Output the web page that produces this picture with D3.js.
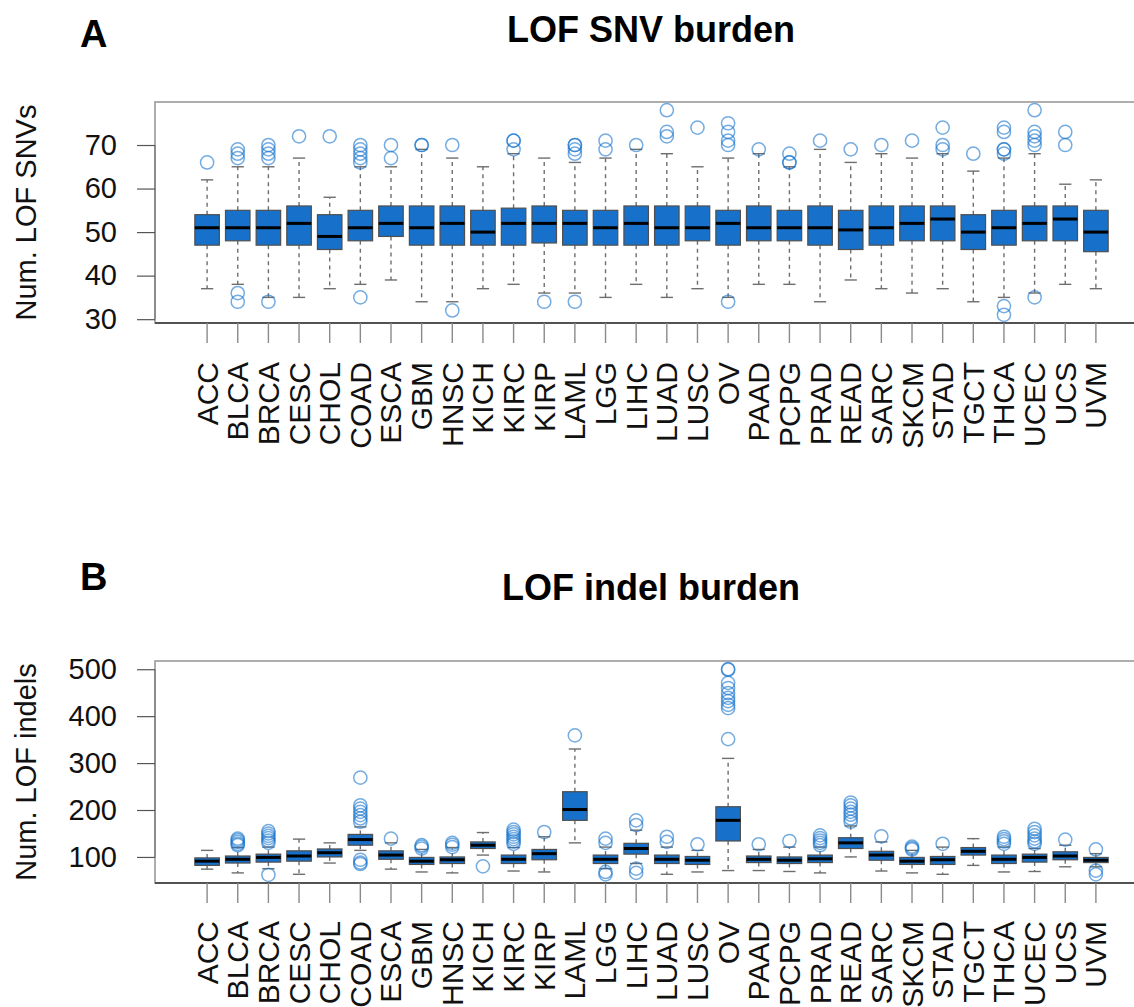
<!DOCTYPE html>
<html>
<head>
<meta charset="utf-8">
<script src="https://cdn.jsdelivr.net/npm/d3@7"></script>
<style>
  html, body { margin: 0; padding: 0; background: #fff; }
  svg { display: block; font-family: "Liberation Sans", Arial, Helvetica, sans-serif; }
</style>
</head>
<body>
<svg id="fig" width="1134" height="1007"></svg>
<script>
// Tumour types on the x axis
const categories = ["ACC","BLCA","BRCA","CESC","CHOL","COAD","ESCA","GBM","HNSC","KICH",
  "KIRC","KIRP","LAML","LGG","LIHC","LUAD","LUSC","OV","PAAD","PCPG",
  "PRAD","READ","SARC","SKCM","STAD","TGCT","THCA","UCEC","UCS","UVM"];

// Panel A: LOF SNVs per sample (whisker ends, quartiles, median, outliers)
const snvLow    = [37,38,35,35,37,38,39,34,34,37, 38,36,36,35,38,35,37,35,38,38, 34,39,37,36,37,34,35,36,38,37];
const snvQ1     = [47,48,47,47,46,48,49,47,47,47, 47,47.5,47,47,47,47,48,47,48,48, 47,46,47,48,48,46,47,48,48,45.5];
const snvMedian = [51,51,51,52,49,51,52,51,52,50, 52,52,52,51,52,51,51,52,51,51, 51,50.5,51,52,53,50,51,52,53,50];
const snvQ3     = [54,55,55,56,54,55,56,56,56,55, 55.5,56,55,55,56,56,56,55,56,55, 56,55,56,56,56,54,55,56,56,55];
const snvHigh   = [62,65,65,67,58,65,65,69,67,65, 68,67,66,67,69,68,65,67,68,65, 69,66,68,67,68,64,67,68,61,62];
const snvOutliers = [
  [66], [67,68,69,36,34], [67,68,69,70,34], [72], [72], [66,67,68,69,70,35], [67,70], [70,70], [70,32], [],
  [69,71,71], [34], [68,69,70,70,34], [69,71], [70], [72,73,78], [74], [70,71,73,75,34], [69], [66,66,68],
  [71], [69], [70], [71], [69,70,74], [68], [68,69,69,73,74,33,31], [70,71,72,73,78,35], [70,73], []
];
const snvTicks = [30,40,50,60,70];

// Panel B: LOF indels per sample
const indelLow    = [74,66,75,63,87,114,74,68,66,104, 70,68,130,75,86,63,68,71,71,69, 66,100,70,66,63,82,68,69,79,79];
const indelQ1     = [82,87,89,91,100,125,95,84,86,118, 86,94,178,86,106,86,84,134,88,86, 88,118,93,84,84,104,86,89,94,88];
const indelMedian = [91,95,99,102,109,137,104,91,94,125, 95,107,201,95,118,95,93,178,95,93, 96,130,104,91,94,112,95,99,102,93];
const indelQ3     = [98,102,106,113,117,148,113,99,100,132, 104,116,239,104,129,104,101,207,102,100, 104,141,112,99,101,120,104,106,111,99];
const indelHigh   = [114,120,121,138,130,164,130,116,120,152, 120,143,330,121,157,121,114,310,116,121, 121,166,132,114,121,139,121,118,125,107];
const indelOutliers = [
  [], [125,128,132,136,139], [130,135,140,145,150,155,62], [], [], [269,210,203,196,189,182,175,94,88,85],
  [139], [118,122,125], [121,126,130], [80],
  [128,133,138,143,148,153,158], [153], [359], [130,139,68,63], [168,178,75,66], [132,143], [127],
  [351,417,424,432,439,449,460,471,499,500], [127], [134],
  [125,130,135,140,146], [175,182,190,196,203,210,216], [144], [116,119,122], [128], [],
  [128,133,138,143], [128,133,139,146,153,160], [137], [116,71,63]
];
const indelTicks = [100,200,300,400,500];

const svg = d3.select("#fig");

const BOX_FILL = "#1770C9";
const BOX_EDGE = "#4f4f4f";
const WHISK = "#6e6e6e";
const OUT = "#1874CD";

function drawPanel(p) {
  const g = svg.append("g");
  const x = d3.scaleLinear().domain([-0.7, categories.length + 1.7]).range([155, 1148]);

  const allVals = p.low.concat(p.high, p.outliers.flat());
  const lo = d3.min(allVals), hi = d3.max(allVals);
  const pad = (hi - lo) * 0.04;
  const y = d3.scaleLinear().domain([lo - pad, hi + pad]).range([p.bottom, p.top]);

  // plot frame (right side runs off the figure)
  g.append("rect")
    .attr("x", 155).attr("y", p.top)
    .attr("width", 1148 - 155).attr("height", p.bottom - p.top)
    .attr("fill", "none").attr("stroke", "#9a9a9a").attr("stroke-width", 1.6);
  g.append("line")
    .attr("x1", 155).attr("x2", 1148).attr("y1", p.bottom).attr("y2", p.bottom)
    .attr("stroke", "#333").attr("stroke-width", 1.4);

  // y axis
  const yAxis = d3.axisLeft(y).tickValues(p.ticks).tickSize(18).tickPadding(20).tickFormat(d3.format("d"));
  const ya = g.append("g").attr("transform", "translate(155,0)").call(yAxis);
  ya.select(".domain")
    .attr("d", `M0,${y(p.ticks[0])}V${y(p.ticks[p.ticks.length - 1])}`)
    .attr("stroke", "#777").attr("stroke-width", 1.2);
  ya.selectAll(".tick line").attr("stroke", "#555").attr("stroke-width", 1.2);
  ya.selectAll(".tick text")
    .attr("font-size", 29).attr("fill", "#111")
    .attr("font-family", "Liberation Sans, Arial, sans-serif");

  // x ticks and rotated category labels
  const xa = g.append("g");
  xa.selectAll("line.xt").data(categories).join("line")
    .attr("class", "xt")
    .attr("x1", (d, i) => x(i + 1)).attr("x2", (d, i) => x(i + 1))
    .attr("y1", p.bottom).attr("y2", p.bottom + 20)
    .attr("stroke", "#8a8a8a").attr("stroke-width", 1.4);
  xa.selectAll("text.xl").data(categories).join("text")
    .attr("class", "xl")
    .attr("transform", (d, i) => `translate(${x(i + 1) + 10.5},${p.labelTop}) rotate(-90)`)
    .attr("text-anchor", "end")
    .attr("font-size", 30).attr("fill", "#111")
    .text(d => d);

  const bw = (x(2) - x(1)) * 0.8;
  const cap = bw * 0.5;
  const boxes = g.append("g");
  categories.forEach((c, i) => {
    const cx = x(i + 1);
    // whiskers
    boxes.append("line").attr("x1", cx).attr("x2", cx)
      .attr("y1", y(p.q3[i])).attr("y2", y(p.high[i]))
      .attr("stroke", WHISK).attr("stroke-width", 1.4).attr("stroke-dasharray", "4,4");
    boxes.append("line").attr("x1", cx).attr("x2", cx)
      .attr("y1", y(p.q1[i])).attr("y2", y(p.low[i]))
      .attr("stroke", WHISK).attr("stroke-width", 1.4).attr("stroke-dasharray", "4,4");
    [p.high[i], p.low[i]].forEach(v => {
      boxes.append("line").attr("x1", cx - cap / 2).attr("x2", cx + cap / 2)
        .attr("y1", y(v)).attr("y2", y(v))
        .attr("stroke", WHISK).attr("stroke-width", 1.4);
    });
    // box
    boxes.append("rect")
      .attr("x", cx - bw / 2).attr("width", bw)
      .attr("y", y(p.q3[i])).attr("height", y(p.q1[i]) - y(p.q3[i]))
      .attr("fill", BOX_FILL).attr("stroke", BOX_EDGE).attr("stroke-width", 1.2);
    // median
    boxes.append("line").attr("x1", cx - bw / 2).attr("x2", cx + bw / 2)
      .attr("y1", y(p.median[i])).attr("y2", y(p.median[i]))
      .attr("stroke", "#000").attr("stroke-width", 3);
    // outliers
    boxes.selectAll(null).data(p.outliers[i]).join("circle")
      .attr("cx", cx).attr("cy", v => y(v)).attr("r", 6.6)
      .attr("fill", "none").attr("stroke", OUT)
      .attr("stroke-opacity", 0.6).attr("stroke-width", 1.5);
  });

  // titles
  svg.append("text").attr("x", 651).attr("y", p.titleY)
    .attr("text-anchor", "middle").attr("font-size", 36).attr("font-weight", "bold")
    .text(p.title);
  svg.append("text").attr("x", 80).attr("y", p.letterY)
    .attr("font-size", 38).attr("font-weight", "bold")
    .text(p.letter);
  svg.append("text")
    .attr("transform", `translate(36,${(p.top + p.bottom) / 2}) rotate(-90)`)
    .attr("text-anchor", "middle").attr("font-size", 29).attr("fill", "#111")
    .text(p.ylab);
}

drawPanel({
  top: 102, bottom: 323, labelTop: 362,
  low: snvLow, q1: snvQ1, median: snvMedian, q3: snvQ3, high: snvHigh, outliers: snvOutliers,
  ticks: snvTicks, title: "LOF SNV burden", letter: "A", titleY: 42, letterY: 47,
  ylab: "Num. LOF SNVs"
});
drawPanel({
  top: 661, bottom: 883, labelTop: 921,
  low: indelLow, q1: indelQ1, median: indelMedian, q3: indelQ3, high: indelHigh, outliers: indelOutliers,
  ticks: indelTicks, title: "LOF indel burden", letter: "B", titleY: 600, letterY: 590,
  ylab: "Num. LOF indels"
});
</script>
</body>
</html>
